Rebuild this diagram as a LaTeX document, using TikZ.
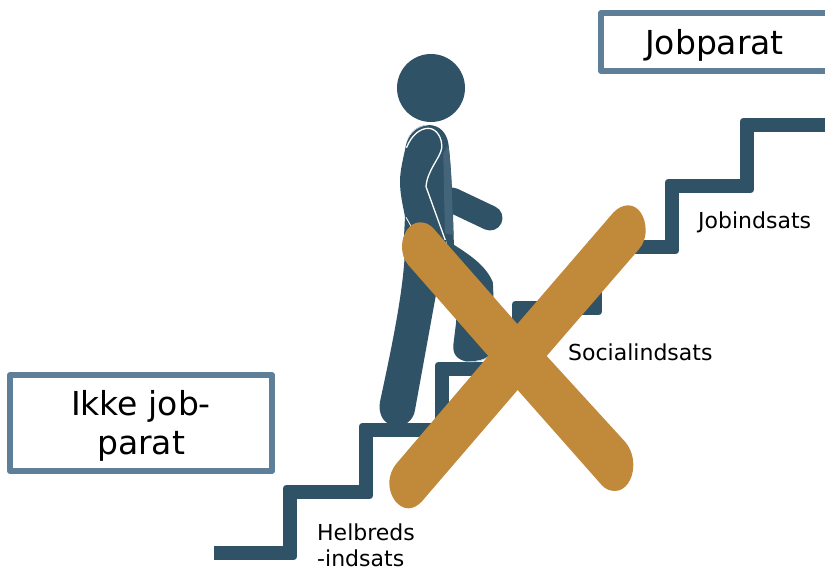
\documentclass[tikz,border=0pt]{standalone}
\usepackage{fontspec}
\setmainfont{DejaVu Sans}
\definecolor{navy}{HTML}{2F5266}
\definecolor{strip}{HTML}{44647A}
\definecolor{boxline}{HTML}{5F7F99}
\definecolor{cross}{HTML}{C1893A}
\newcommand{\stairline}{(200,553)--(290,553)--(290,492)--(366,492)--(366,430)--(442,430)--(442,369)--(519,369)--(519,308)--(595,308)--(595,247)--(672,247)--(672,186)--(747,186)--(747,125)--(840,125)}
\tikzset{
 stairedge/.style={draw=navy,line width=7pt,line join=round},
 staircore/.style={draw=navy,line width=8pt,line join=miter},
 bigbox/.style={draw=boxline,line width=6pt,line join=round,fill=white,font=\fontsize{33}{39}\selectfont,align=center,inner sep=0pt,outer sep=0pt,anchor=north west},
 small/.style={font=\fontsize{22}{26}\selectfont,inner sep=0pt,align=left}
}
\begin{document}
\begin{tikzpicture}[x=1pt,y=-1pt]
\useasboundingbox (0,0) rectangle (825,570);
% stairs
\begin{scope}
 \clip (214,0) rectangle (825,570);
 \draw[stairedge,shift={(-3.75,-3.75)}] \stairline;
 \draw[stairedge,shift={(3.75,3.75)}] \stairline;
 \draw[staircore] \stairline;
\end{scope}
% figure
\fill[navy] (431,88) circle (34);
\draw[navy,line width=25pt,line cap=round] (452,200)--(490,218);
\begin{scope}[shift={(380,110)},x=0.3333pt,y=-0.3333pt]
 \fill[navy] (78,105) .. controls (85,70) and (110,45) .. (145,45) .. controls (180,45) and (200,70) .. (205,100) .. controls (213,160) and (218,250) .. (222,420) -- (70,420) -- (75,320) .. controls (68,285) and (60,250) .. (60,215) .. controls (60,180) and (70,145) .. (78,105) -- cycle;
 \fill[strip] (190,130) -- (205,105) .. controls (213,160) and (216,250) .. (220,375) -- (195,370) -- (192,250) -- cycle;
 \draw[white,line width=1.3pt,line cap=round] (80,112) .. controls (95,75) and (120,55) .. (145,55) .. controls (170,55) and (188,85) .. (185,115) .. controls (180,145) and (142,180) .. (138,230) -- (203,410);
 \draw[white,line width=0.8pt] (78,322) -- (95,352);
 \draw[white!80!navy,line width=0.6pt] (80,95) .. controls (90,65) and (115,47) .. (145,45);
\end{scope}
\begin{scope}[shift={(370,240)},x=0.3333pt,y=-0.3333pt]
 \fill[navy] (105,0) -- (105,30) .. controls (100,150) and (70,300) .. (30,485) .. controls (24,520) and (40,545) .. (55,550) -- (110,550) .. controls (125,540) and (133,525) .. (135,510) -- (195,180) -- (230,0) -- cycle;
 \fill[navy] (232,0) .. controls (262,25) and (340,60) .. (368,125) .. controls (372,150) and (370,300) .. (370,300) -- (355,350) .. controls (340,360) and (310,365) .. (290,365) .. controls (262,358) and (248,345) .. (250,315) -- (258,250) -- (262,200) -- (200,120) -- cycle;
 \draw[white!70!navy,line width=0.7pt] (290,365) .. controls (315,367) and (340,362) .. (355,350);
\end{scope}
% cross
\begin{scope}[shift={(380,200)},x=0.3333pt,y=-0.3333pt]
 \fill[cross] (412,372) -- (699,39) .. controls (715,22) and (730,16) .. (745,16) .. controls (775,16) and (797,50) .. (797,90) .. controls (797,115) and (790,133) .. (775,150) -- (500,468) -- (735,725) .. controls (752,745) and (760,770) .. (760,795) .. controls (760,840) and (735,873) .. (705,873) .. controls (690,873) and (677,868) .. (665,855) -- (413,570) -- (125,905) .. controls (112,918) and (100,925) .. (85,925) .. controls (55,925) and (28,890) .. (28,850) .. controls (28,825) and (37,805) .. (50,790) -- (325,468) -- (85,195) .. controls (72,180) and (66,160) .. (66,140) .. controls (66,100) and (90,67) .. (120,67) .. controls (135,67) and (148,72) .. (160,85) -- cycle;
\end{scope}
% boxes
\node[bigbox,minimum width=262pt,minimum height=96pt] (ikke) at (10,375) {\rule{0pt}{31pt}Ikke job-\\parat};
\node[bigbox,minimum width=227pt,minimum height=58pt] (job) at (601,13) {\rule{0pt}{31pt}Jobparat};
% labels
\node[small,anchor=base west] (jobi) at (698,228) {Jobindsats};
\node[small,anchor=base west] (soc) at (568,360) {Socialindsats};
\node[small,anchor=north west] (hel) at (317,524) {Helbreds\\-indsats};
\end{tikzpicture}
\end{document}
